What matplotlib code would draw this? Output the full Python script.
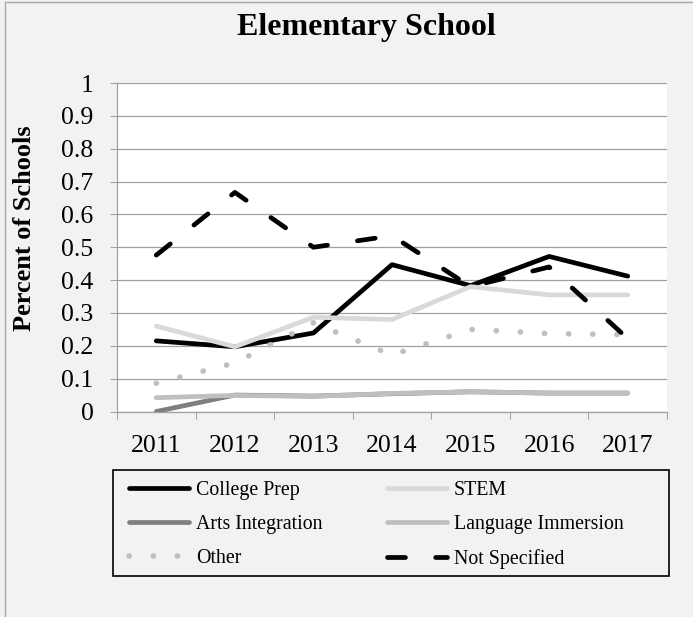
import matplotlib
matplotlib.use("Agg")
import matplotlib.pyplot as plt
from matplotlib.patches import Rectangle
from matplotlib.ticker import FixedLocator

plt.rcParams['font.family'] = ['Liberation Serif', 'DejaVu Serif']

years = ['2011', '2012', '2013', '2014', '2015', '2016', '2017']
college_prep = [0.215, 0.197, 0.239, 0.447, 0.383, 0.472, 0.412]
stem = [0.260, 0.197, 0.287, 0.280, 0.380, 0.355, 0.355]
arts_integration = [0.000, 0.050, 0.047, 0.054, 0.060, 0.056, 0.056]
language_immersion = [0.042, 0.049, 0.046, 0.055, 0.060, 0.056, 0.056]
other = [0.086, 0.148, 0.270, 0.172, 0.250, 0.237, 0.234]
not_specified = [0.476, 0.667, 0.500, 0.535, 0.380, 0.440, 0.222]

W, H = 693, 617
fig = plt.figure(figsize=(W / 100, H / 100), dpi=100)
fig.patch.set_facecolor('#f2f2f2')

# chart border (only the top/left edges fall inside the canvas)
fig.add_artist(Rectangle((5 / W, -0.2), 1.3, 1.2 - 2 / H, transform=fig.transFigure,
                         fill=False, edgecolor='#a6a6a6', lw=1.0))

ax = fig.add_axes([117 / W, 1 - 411.5 / H, 550 / W, 328.5 / H])
ax.set_facecolor('white')

x = list(range(len(years)))
lw = 3.4
common = dict(lw=lw, solid_capstyle='round', solid_joinstyle='round',
              dash_capstyle='round', dash_joinstyle='round')

h_cp, = ax.plot(x, college_prep, color='black', label='College Prep', zorder=3, **common)
h_stem, = ax.plot(x, stem, color='#d9d9d9', label='STEM', zorder=4, **common)
h_arts, = ax.plot(x, arts_integration, color='#7f7f7f', label='Arts Integration', zorder=5, **common)
h_lang, = ax.plot(x, language_immersion, color='#bfbfbf', label='Language Immersion', zorder=6, **common)
h_other, = ax.plot(x, other, color='#bfbfbf', label='Other', zorder=7,
                   **{**common, 'lw': 4.0})
h_other.set_dashes([0.05, 4.3])
h_ns, = ax.plot(x, not_specified, color='black', label='Not Specified', zorder=8, **common)
h_ns.set_dashes([3.8, 6.4])

ax.set_xlim(-0.5, len(years) - 0.5)
ax.set_ylim(0, 1)

# category axis: ticks between categories, labels centred on them
ax.xaxis.set_major_locator(FixedLocator([i - 0.5 for i in range(len(years) + 1)]))
ax.xaxis.set_minor_locator(FixedLocator(x))
ax.set_xticklabels([], minor=False)
ax.set_xticklabels(years, minor=True)
ax.tick_params(axis='x', which='major', length=5, width=0.75, color='#a0a0a0', direction='out')
ax.tick_params(axis='x', which='minor', length=0, pad=17, labelsize=18.5)

yt = [i / 10 for i in range(11)]
ax.set_yticks(yt)
ax.set_yticklabels(['0'] + [f'{v:.1f}' for v in yt[1:-1]] + ['1'])
ax.tick_params(axis='y', length=5, width=0.75, color='#a0a0a0', direction='out',
               pad=12, labelsize=18.5)

ax.grid(axis='y', color='#a0a0a0', lw=0.9)
ax.set_axisbelow(True)
for side in ['top', 'right']:
    ax.spines[side].set_visible(False)
for side in ['left', 'bottom']:
    ax.spines[side].set_color('#a0a0a0')
    ax.spines[side].set_linewidth(0.9)

fig.text(366 / W, 1 - 27 / H, 'Elementary School', ha='center', va='center',
         fontsize=23, fontweight='bold')
fig.text(25 / W, 1 - 228 / H, 'Percent of Schools', ha='center', va='center',
         rotation=90, fontsize=19, fontweight='bold')

# legend box drawn separately so it can span the full width
fig.add_artist(Rectangle((113 / W, 1 - 576 / H), 556 / W, 106 / H, transform=fig.transFigure,
                         fill=False, edgecolor='black', lw=1.2))
# entries listed column by column so they read across in rows
handles = [h_cp, h_arts, h_other, h_stem, h_lang, h_ns]
ax.legend(handles=handles, labels=[h.get_label() for h in handles],
          loc='upper left', bbox_to_anchor=(129.4 / W, 1 - 481 / H),
          bbox_transform=fig.transFigure, ncol=2, frameon=False, fontsize=14.3,
          handlelength=3.0, handletextpad=0.35, columnspacing=3.25,
          labelspacing=0.76, borderpad=0, borderaxespad=0)

fig.savefig('out.png', dpi=100, facecolor=fig.get_facecolor())
